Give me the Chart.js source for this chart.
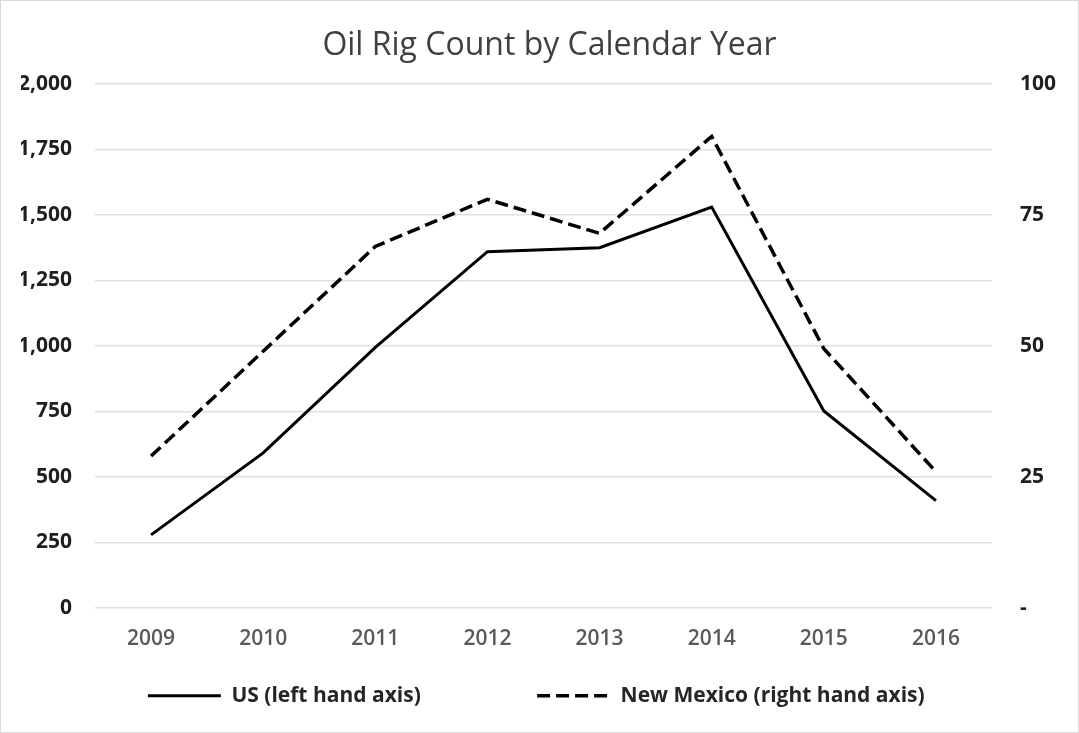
<!DOCTYPE html>
<html>
<head>
<meta charset="utf-8">
<script src="https://cdn.jsdelivr.net/npm/chart.js@4.4.1/dist/chart.umd.min.js"></script>
<style>
  html, body { margin: 0; padding: 0; background: #fff; }
  #wrap { width: 1077px; height: 731px; border: 1px solid #d9d9d9; position: relative; }
</style>
</head>
<body>
<div id="wrap"><canvas id="rigChart"></canvas></div>
<script>
const YEARS = ['2009', '2010', '2011', '2012', '2013', '2014', '2015', '2016'];
const US_RIGS = [279, 592, 995, 1360, 1375, 1530, 752, 410];
const NM_RIGS = [29, 49, 69, 78, 71.5, 90, 49.5, 26];
const LEFT_AXIS = { min: 0, max: 2000, step: 250 };
const RIGHT_AXIS = { min: 0, max: 100, step: 25 };

Chart.defaults.font.family = '"Open Sans", Lato, sans-serif';

const tickFont = { size: 21, weight: 'bold' };
// legend box is a zero-height rect, so its width is picked so that the
// return stroke of the rect lands on the same dashes (2w = dash mod period)
const DASH = [13, 6];
const LEGEND_LINE = 73;

new Chart(document.getElementById('rigChart'), {
    type: 'line',
    data: {
        labels: YEARS,
        datasets: [
            {
                label: 'US (left hand axis)',
                data: US_RIGS,
                yAxisID: 'yLeft',
                borderColor: '#000',
                backgroundColor: '#000',
                borderWidth: 3,
                pointRadius: 0,
                tension: 0
            },
            {
                label: 'New Mexico (right hand axis)',
                data: NM_RIGS,
                yAxisID: 'yRight',
                borderColor: '#000',
                backgroundColor: '#000',
                borderWidth: 3.5,
                borderDash: DASH,
                pointRadius: 0,
                tension: 0
            }
        ]
    },
    options: {
        responsive: true,
        maintainAspectRatio: false,
        animation: false,
        layout: { padding: { left: 20, bottom: 15.8 } },
        plugins: {
            title: {
                display: true,
                text: 'Oil Rig Count by Calendar Year',
                color: '#404040',
                font: { size: 32, weight: 'normal' },
                padding: { top: 26, bottom: 18.6 }
            },
            legend: {
                position: 'bottom',
                labels: {
                    boxWidth: LEGEND_LINE,
                    boxHeight: 0,
                    padding: 16,
                    color: '#262626',
                    font: { size: 21, weight: 'bold' },
                    generateLabels(chart) {
                        const items = Chart.defaults.plugins.legend.labels.generateLabels(chart);
                        // spacing between the two entries, as in the original
                        items[0].text += '\u2003'.repeat(4) + '   ';
                        items[1].text += '\u2003' + ' ';
                        return items;
                    }
                }
            },
            tooltip: { enabled: false }
        },
        scales: {
            x: {
                offset: true,
                grid: { display: false, drawTicks: false },
                border: { display: false },
                ticks: {
                    color: '#595959',
                    font: { size: 21, weight: '600' },
                    padding: 18,
                    maxRotation: 0,
                    autoSkip: false
                }
            },
            yLeft: {
                position: 'left',
                min: LEFT_AXIS.min,
                max: LEFT_AXIS.max,
                afterFit: s => { s.width = 74; },
                grid: { color: '#e0e0e0', lineWidth: 1.5, drawTicks: false },
                border: { display: false },
                ticks: {
                    stepSize: LEFT_AXIS.step,
                    padding: 23,
                    color: '#1f1f1f',
                    font: tickFont,
                    callback: v => v.toLocaleString('en-US')
                }
            },
            yRight: {
                position: 'right',
                min: RIGHT_AXIS.min,
                max: RIGHT_AXIS.max,
                afterFit: s => { s.width = 86; },
                grid: { display: false, drawTicks: false },
                border: { display: false },
                ticks: {
                    stepSize: RIGHT_AXIS.step,
                    padding: 28,
                    color: '#1f1f1f',
                    font: tickFont,
                    callback: v => v === 0 ? '-' : v
                }
            }
        }
    }
});
</script>
</body>
</html>
